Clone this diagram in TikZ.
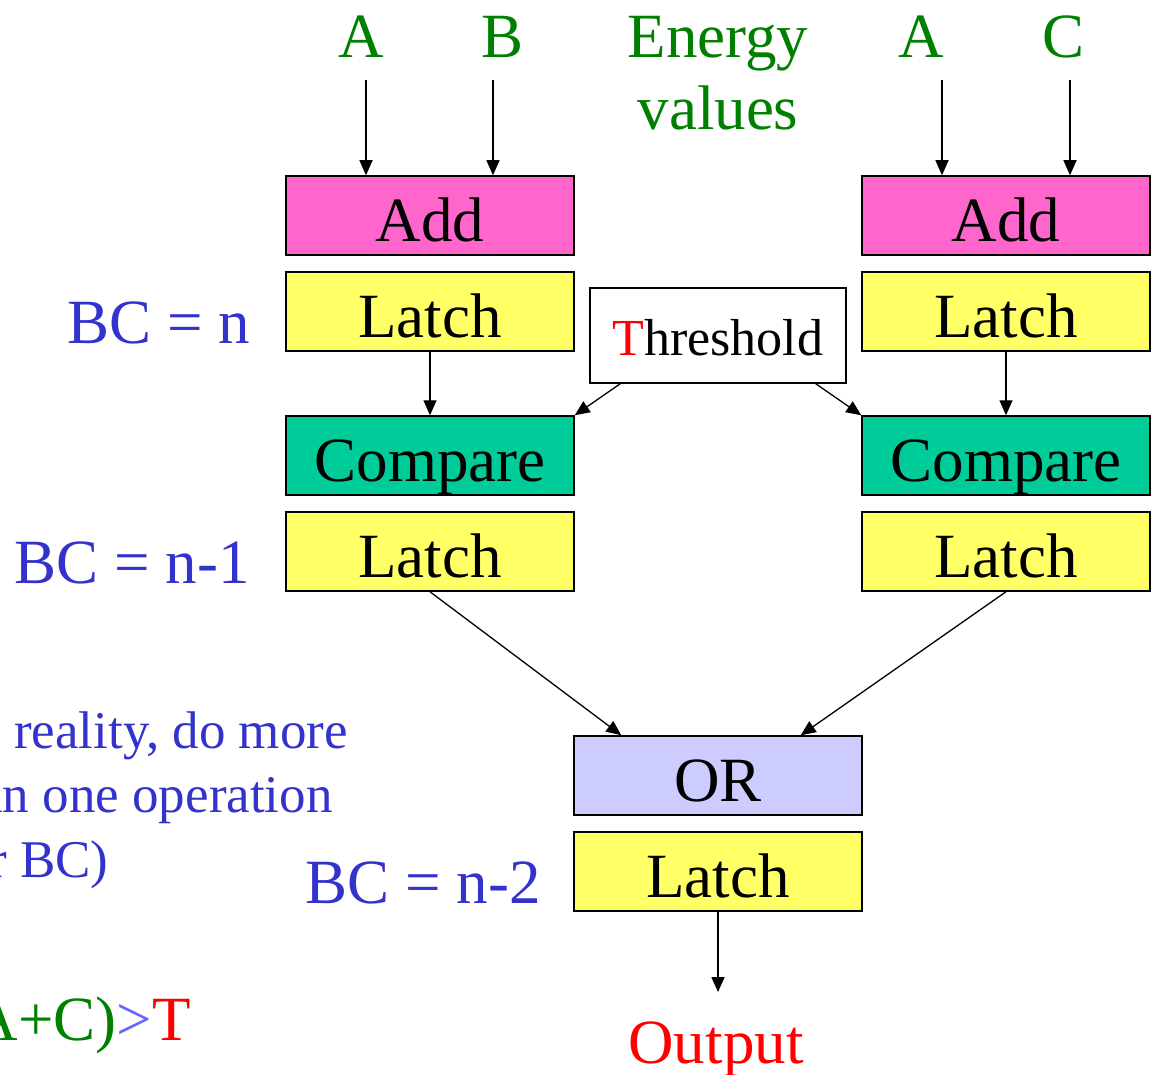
\documentclass[tikz,border=0pt]{standalone}
\usepackage{fontspec}
\setmainfont{Liberation Serif}
\usetikzlibrary{arrows.meta}
\definecolor{pinkc}{HTML}{FF66CC}
\definecolor{yelc}{HTML}{FFFF66}
\definecolor{grnc}{HTML}{00CC99}
\definecolor{lavc}{HTML}{CCCCFF}
\definecolor{txtgreen}{HTML}{008000}
\definecolor{txtblue}{HTML}{3333CC}
\definecolor{ltblue}{HTML}{6666FF}
\definecolor{txtred}{HTML}{FF0000}
\newcommand\mainsz{\fontsize{63}{76}\selectfont}
\newcommand\thsz{\fontsize{52}{63}\selectfont}
\newcommand\notesz{\fontsize{53}{64}\selectfont}
\begin{document}
\begin{tikzpicture}[x=1pt,y=-1pt,
  boxst/.style={draw=black, line width=1.5pt, minimum width=288pt, text height=65pt, text depth=14pt, inner sep=0pt, font=\mainsz},
  lbl/.style={inner sep=0pt, font=\mainsz},
  arr/.style={-{Triangle[length=15pt,width=13pt]}, line width=1.3pt}]
\useasboundingbox (0,0) rectangle (1158,1075);
\clip (0,0) rectangle (1158,1075);

% top labels
\node[lbl, anchor=base, txtgreen] (tA1) at (361,58) {A};
\node[lbl, anchor=base, txtgreen] (tB) at (503,58) {B};
\node[lbl, anchor=base, txtgreen] (tE1) at (718,58) {Energy};
\node[lbl, anchor=base, txtgreen] (tE2) at (718,130) {values};
\node[lbl, anchor=base, txtgreen] (tA2) at (921,58) {A};
\node[lbl, anchor=base, txtgreen] (tC) at (1063,58) {C};

% boxes left
\node[boxst, fill=pinkc] (add1) at (430,215.5) {Add};
\node[boxst, fill=yelc] (l1a) at (430,311.5) {Latch};
\node[boxst, fill=grnc] (cmp1) at (430,455.5) {Compare};
\node[boxst, fill=yelc] (l1b) at (430,551.5) {Latch};
% boxes right
\node[boxst, fill=pinkc] (add2) at (1006,215.5) {Add};
\node[boxst, fill=yelc] (l2a) at (1006,311.5) {Latch};
\node[boxst, fill=grnc] (cmp2) at (1006,455.5) {Compare};
\node[boxst, fill=yelc] (l2b) at (1006,551.5) {Latch};
% bottom
\node[boxst, fill=lavc] (orb) at (718,775.5) {OR};
\node[boxst, fill=yelc] (l3) at (718,871.5) {Latch};
% threshold
\node[draw=black, fill=white, line width=1.5pt, minimum width=256pt, text height=67pt, text depth=28pt, inner sep=0pt, font=\thsz] (thr) at (718,335.5) {\textcolor{txtred}{T}hreshold};

% output
\node[lbl, anchor=base, txtred] (out) at (716,1063) {Output};

% BC labels
\node[lbl, anchor=base east, txtblue] (bc1) at (250,343) {BC = n};
\node[lbl, anchor=base east, txtblue] (bc2) at (250,583) {BC = n-1};
\node[lbl, anchor=base east, txtblue] (bc3) at (541,903) {BC = n-2};

% note (clipped at left)
\node[inner sep=0pt, font=\notesz, anchor=base west, txtblue] (n1) at (-61,748) {(In reality, do more};
\node[inner sep=0pt, font=\notesz, anchor=base west, txtblue] (n2) at (-62,812) {than one operation};
\node[inner sep=0pt, font=\notesz, anchor=base west, txtblue] (n3) at (-61,877) {per BC)};
\node[lbl, anchor=base east] (cond) at (191,1040) {\textcolor{txtgreen}{(A+C)}\textcolor{ltblue}{>}\textcolor{txtred}{T}};

% input arrows
\coordinate (sa1) at (366,80);
\coordinate (sb) at (493,80);
\coordinate (sa2) at (942,80);
\coordinate (sc) at (1070,80);
\draw[arr] (sa1) -- (sa1 |- add1.north);
\draw[arr] (sb) -- (sb |- add1.north);
\draw[arr] (sa2) -- (sa2 |- add2.north);
\draw[arr] (sc) -- (sc |- add2.north);

% latch to compare
\draw[arr] (l1a) -- (cmp1);
\draw[arr] (l2a) -- (cmp2);
% threshold to compare
\draw[arr] ([xshift=31pt]thr.south west) -- (cmp1.north east);
\draw[arr] ([xshift=-31pt]thr.south east) -- (cmp2.north west);
% latch to OR
\draw[arr] (l1b.south) -- ([xshift=48pt]orb.north west);
\draw[arr] (l2b.south) -- ([xshift=-62pt]orb.north east);
% output
\draw[arr] (l3.south) -- ([yshift=29pt]l3.south |- out.north);
\end{tikzpicture}
\end{document}
